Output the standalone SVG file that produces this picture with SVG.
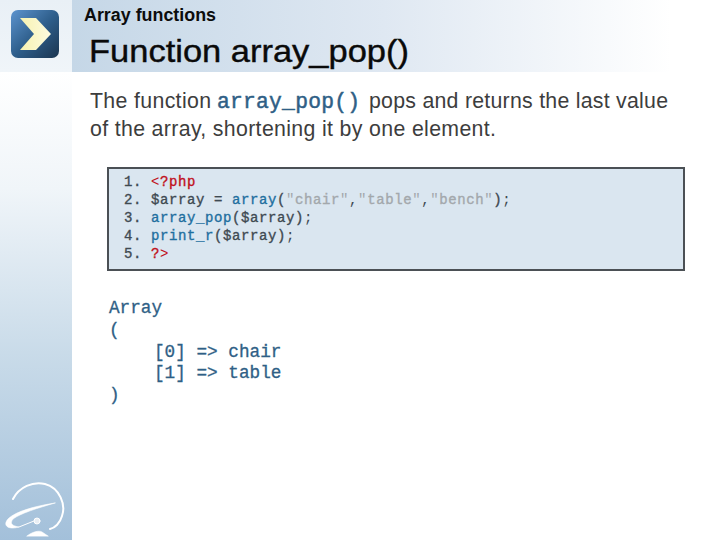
<svg xmlns="http://www.w3.org/2000/svg" width="720" height="540" viewBox="0 0 720 540">
<defs>
<linearGradient id="top" x1="0" y1="0" x2="1" y2="0"><stop offset="0" stop-color="#c5d7e7"/><stop offset="0.5" stop-color="#dfe8f2"/><stop offset="0.96" stop-color="#ffffff"/></linearGradient>
<linearGradient id="corner" x1="0" y1="0" x2="0" y2="1"><stop offset="0" stop-color="#e9f0f6"/><stop offset="1" stop-color="#f0f5f9"/></linearGradient>
<linearGradient id="side" x1="0" y1="0" x2="0" y2="1"><stop offset="0" stop-color="#ffffff"/><stop offset="0.25" stop-color="#f0f5f9"/><stop offset="0.6" stop-color="#c9dbe9"/><stop offset="1" stop-color="#a3c0da"/></linearGradient>
<linearGradient id="icon" x1="0" y1="0" x2="1" y2="1"><stop offset="0" stop-color="#5d94cf"/><stop offset="0.5" stop-color="#2f5f8c"/><stop offset="1" stop-color="#1b3550"/></linearGradient>
<linearGradient id="chev" x1="0" y1="0" x2="1" y2="0"><stop offset="0" stop-color="#f7f2b0"/><stop offset="1" stop-color="#fdfbe0"/></linearGradient>
</defs>
<style>
.s{font-family:"Liberation Sans",Arial,sans-serif}
.m{font-family:"Liberation Mono","Courier New",monospace}
.c{font-size:14px;letter-spacing:.6px;font-weight:400;fill:#3f4a52;stroke:#3f4a52;stroke-width:.35px}
.b{fill:#1f6f9f;stroke:#1f6f9f}
.r{fill:#c01020;stroke:#c01020}
.g{fill:#a3a8ac;stroke:#a3a8ac}
.t{stroke:none}
</style>
<rect width="720" height="540" fill="#fff"/>
<rect x="0" y="72" width="72" height="468" fill="url(#side)"/>
<rect x="0" y="0" width="72" height="72" fill="url(#corner)"/>
<rect x="72" y="0" width="624" height="72" fill="url(#top)"/>
<g id="icon-node">
<rect x="11" y="10" width="48" height="48" rx="7" fill="url(#icon)"/>
<polygon points="20,18 36,18 51,34 36,50 20,50 34,34" fill="url(#chev)"/>
</g>
<g id="logo" fill="none" stroke="#fff" stroke-linecap="round">
<path d="M13 499C19 487 33 481 45 484C60 488 66 505 62 516C60 523 55 528 50 529" stroke-width="2"/>
<path d="M55 503C36 506 16 511 8 519C2 526 9 530 19 527C13 526 9 524 13 519C21 513 38 508 55 503Z" fill="#fff" stroke-width=".6"/>
<path d="M19 527L34 521" stroke-width="1"/>
<circle cx="37" cy="521" r="3" fill="#e8eef4" stroke-width="1"/>
<path d="M27 536C32 532 39 530 42 532L48 536Z" fill="#fff" stroke-width=".6"/>
</g>
<g id="heading">
<text class="s" x="84" y="20.500" font-size="17.500" font-weight="700" fill="#0c0c0c" textLength="132" lengthAdjust="spacingAndGlyphs">Array functions</text>
<text class="s" x="89" y="62" font-size="32" fill="#0a0a0a" stroke="#0a0a0a" stroke-width=".4" textLength="320" lengthAdjust="spacingAndGlyphs">Function array_pop()</text>
</g>
<g id="paragraph" font-size="21.300" fill="#3d3d3d">
<text class="s" x="90" y="107.500" textLength="121">The function</text>
<text class="m" x="217" y="107.500" textLength="143" lengthAdjust="spacing" font-size="21.300" fill="#2f5f86" stroke="#2f5f86" stroke-width=".5">array_pop()</text>
<text class="s" x="369" y="107.500" textLength="299">pops and returns the last value</text>
<text class="s" x="90" y="135.500" textLength="406">of the array, shortening it by one element.</text>
</g>
<g id="code-box">
<rect x="108" y="168" width="576" height="102" fill="#dae6f0" stroke="#4b5055" stroke-width="2"/>
<g class="m">
<text class="c" x="124" y="185.500">1.</text>
<text class="c" x="124" y="203.500">2.</text>
<text class="c" x="124" y="221.500">3.</text>
<text class="c" x="124" y="239.500">4.</text>
<text class="c" x="124" y="257.500">5.</text>
<text class="c" x="151" y="185.500"><tspan class="r t">&lt;</tspan><tspan class="r">?php</tspan></text>
<text class="c" x="151" y="203.500">$array = <tspan class="b">array</tspan>(<tspan class="g t">"</tspan><tspan class="g">chair</tspan><tspan class="g t">"</tspan><tspan class="t">,</tspan><tspan class="g t">"</tspan><tspan class="g">table</tspan><tspan class="g t">"</tspan><tspan class="t">,</tspan><tspan class="g t">"</tspan><tspan class="g">bench</tspan><tspan class="g t">"</tspan>)<tspan class="t">;</tspan></text>
<text class="c" x="151" y="221.500"><tspan class="b">array_pop</tspan>($array)<tspan class="t">;</tspan></text>
<text class="c" x="151" y="239.500"><tspan class="b">print_r</tspan>($array)<tspan class="t">;</tspan></text>
<text class="c" x="151" y="257.500"><tspan class="r">?</tspan><tspan class="r t">&gt;</tspan></text>
</g>
</g>
<g id="output" class="m" font-size="17.700" font-weight="400" fill="#2f5f86" stroke="#2f5f86" stroke-width=".3">
<text x="109" y="313">Array</text>
<text x="109" y="335">(</text>
<text x="154" y="357">[0] =&gt; chair</text>
<text x="154" y="378">[1] =&gt; table</text>
<text x="109" y="400">)</text>
</g>
</svg>
